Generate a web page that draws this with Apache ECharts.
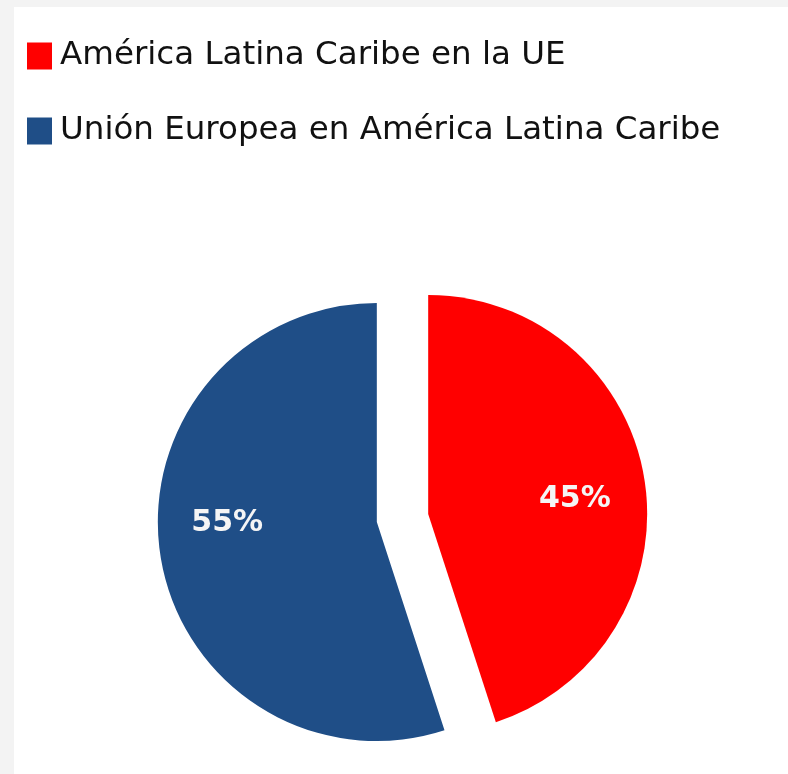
<!DOCTYPE html>
<html>
<head>
<meta charset="utf-8">
<script src="https://cdn.jsdelivr.net/npm/echarts@6/dist/echarts.min.js"></script>
<style>
  html, body { margin: 0; padding: 0; background: #f3f3f3; width: 788px; height: 774px; overflow: hidden; }
  #c { position: absolute; left: 14px; top: 7px; width: 774px; height: 767px; background: #ffffff; }
</style>
</head>
<body>
<div id="c"></div>
<script>
const categories = ['América Latina Caribe en la UE', 'Unión Europea en América Latina Caribe'];
const values = [45, 55];
const colors = ['#ff0000', '#1f4e87'];

const labelShifts = [[-2, 9], [-1, -22]];

const chart = echarts.init(document.getElementById('c'), null, { renderer: 'canvas' });

const common = {
  type: 'pie',
  center: [388.5, 511],
  startAngle: 90,
  clockwise: true,
  selectedMode: 'multiple',
  selectedOffset: 26,
  avoidLabelOverlap: false,
  animation: false,
  emphasis: { disabled: true },
  labelLine: { show: false }
};

chart.setOption({
  animation: false,
  legend: {
    orient: 'vertical',
    left: 13,
    top: 32,
    padding: 0,
    itemWidth: 25,
    itemHeight: 27,
    itemGap: 41,
    icon: 'rect',
    selectedMode: false,
    data: categories,
    textStyle: {
      fontFamily: 'DejaVu Sans',
      fontSize: 32.5,
      color: '#111111',
      lineHeight: 34,
      padding: [0, 0, 0, 3]
    }
  },
  series: [
    Object.assign({}, common, {
      name: 'slices',
      radius: [0, 219],
      label: { show: false },
      data: categories.map((name, i) => ({
        name: name,
        value: values[i],
        selected: true,
        itemStyle: { color: colors[i] }
      }))
    }),
    Object.assign({}, common, {
      name: 'labels',
      radius: [76, 219],
      silent: true,
      z: 3,
      itemStyle: { color: 'rgba(0,0,0,0)' },
      label: {
        show: true,
        position: 'inside',
        formatter: p => p.value + '%',
        color: '#f5f5f5',
        fontFamily: 'DejaVu Sans',
        fontWeight: 'bold',
        fontSize: 30
      },
      labelLayout: function (params) {
        const s = labelShifts[params.dataIndex];
        return { dx: s[0], dy: s[1] };
      },
      data: categories.map((name, i) => ({
        name: name,
        value: values[i],
        selected: true,
        itemStyle: { color: 'rgba(0,0,0,0)' }
      }))
    })
  ]
});
</script>
</body>
</html>
